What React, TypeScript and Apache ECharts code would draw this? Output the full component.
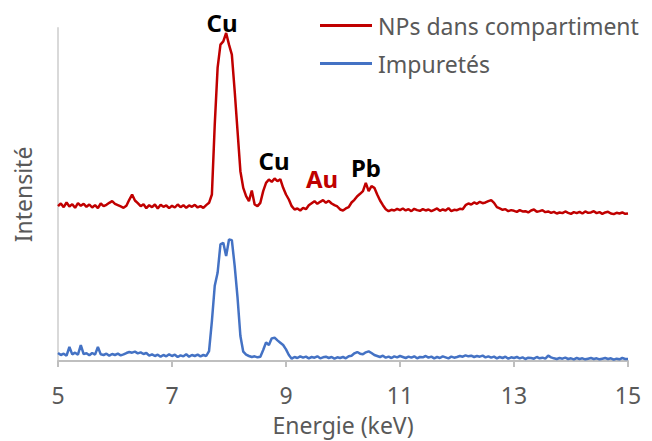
import React, { useEffect, useRef } from "react";
import * as echarts from "echarts";

// Energy sampling grid (keV), 5.00 to 15.00 every 0.05
const energyStart = 5;
const energyStep = 0.05;

const npsValues: number[] = [
  46.5, 47.3, 46.2, 47.6, 46.4, 47.1, 46.0, 47.4, 46.6, 47.2,
  46.3, 47.0, 46.1, 46.8, 45.9, 47.3, 46.5, 46.9, 47.5, 48.0,
  47.2, 46.8, 46.4, 46.0, 46.6, 48.4, 50.0, 48.2, 47.4, 46.5,
  47.1, 45.9, 46.8, 46.2, 47.0, 45.8, 46.9, 46.3, 46.7, 45.9,
  46.6, 46.1, 47.0, 46.2, 46.8, 46.0, 46.7, 46.3, 46.9, 46.1,
  46.5, 46.0, 46.8, 47.5, 50.0, 71.0, 88.0, 95.0, 96.0, 98.5,
  95.0, 92.0, 81.0, 69.0, 57.0, 52.0, 49.5, 48.0, 51.2, 47.0,
  46.5, 47.5, 51.0, 53.5, 54.5, 53.8, 54.8, 54.0, 54.6, 52.0,
  50.0, 48.5, 46.5, 45.5, 45.8, 45.2, 46.0, 45.6, 46.8, 47.4,
  48.0, 47.2, 47.8, 48.3, 47.5, 48.1, 47.3, 46.8, 46.4, 45.5,
  45.2, 45.8, 46.2, 47.6, 48.4, 49.5, 50.2, 51.0, 53.5, 51.0,
  52.5, 52.0, 50.0, 48.2, 46.8, 45.6, 45.0, 45.4, 45.2, 45.7,
  45.3, 45.8, 45.2, 45.6, 45.0, 45.7, 45.3, 45.1, 45.6, 45.2,
  45.5, 45.0, 45.4, 45.8, 45.1, 45.5, 45.2, 45.9, 45.0, 45.4,
  45.3, 45.7, 45.6, 46.8, 47.3, 47.0, 47.6, 47.2, 47.8, 47.4,
  47.6, 48.0, 48.3, 47.5, 46.2, 45.8, 45.4, 45.6, 45.0, 45.3,
  45.1, 44.8, 45.3, 44.9, 45.0, 44.6, 45.2, 45.5, 44.8, 45.0,
  45.3, 44.7, 44.9, 44.5, 44.8, 44.3, 44.6, 44.4, 44.9, 44.5,
  44.2, 44.7, 44.4, 44.8, 44.3, 44.9, 44.5, 44.6, 45.0, 44.4,
  44.7, 44.2, 44.6, 44.8, 44.3, 44.1, 44.5, 44.3, 44.6, 44.2,
  44.3,
];

const impuretesValues: number[] = [
  2.4, 1.8, 2.2, 1.6, 4.2, 2.0, 2.5, 1.9, 4.8, 2.1,
  2.3, 1.7, 2.4, 1.9, 4.2, 2.0, 1.8, 2.2, 1.6, 2.1,
  1.8, 2.2, 1.7, 2.0, 2.4, 2.7, 2.5, 2.8, 2.3, 2.6,
  2.1, 2.4, 1.6, 2.0, 1.5, 1.9, 1.3, 1.8, 1.4, 2.0,
  1.5, 1.9, 1.2, 1.7, 1.4, 2.0, 1.3, 1.8, 1.5, 1.9,
  1.4, 1.8, 1.5, 3.0, 12.0, 22.6, 26.5, 35.0, 35.5, 31.5,
  36.5, 36.3, 28.5, 19.0, 7.5, 2.8, 1.9, 1.5, 1.2, 1.4,
  1.1, 1.3, 3.3, 5.6, 4.8, 6.8, 7.0, 6.2, 5.5, 4.8,
  3.5, 1.8, 0.7, 1.2, 0.9, 1.4, 1.0, 1.3, 0.8, 1.2,
  1.0, 1.4, 0.8, 1.1, 1.3, 0.9, 1.2, 0.7, 1.1, 0.9,
  1.2, 0.8, 1.4, 1.6, 2.3, 2.7, 2.2, 2.0, 2.6, 2.9,
  2.4, 1.8, 1.5, 1.2, 1.6, 1.0, 1.3, 0.9, 1.4, 1.1,
  1.5, 1.2, 0.9, 1.3, 1.0, 1.4, 0.8, 1.2, 1.1, 1.5,
  1.0, 1.3, 0.8, 1.2, 0.9, 1.4, 1.1, 0.8, 1.3, 1.0,
  1.2, 1.5, 1.3, 1.7, 1.4, 1.6, 1.2, 1.5, 1.3, 1.6,
  1.1, 1.4, 1.0, 1.3, 0.8, 1.2, 0.9, 1.3, 0.7, 1.1,
  0.9, 1.2, 0.8, 1.1, 0.6, 1.0, 0.9, 0.7, 1.2, 0.8,
  1.0, 0.7, 1.6, 1.1, 0.8, 0.6, 0.9, 0.7, 1.0, 0.6,
  0.8, 0.5, 0.9, 0.6, 0.8, 0.5, 0.7, 0.9, 0.6, 0.8,
  0.5, 0.7, 0.9, 0.6, 0.8, 0.4, 0.7, 0.5, 0.9, 0.6,
  0.6,
];

const seriesNames = ["NPs dans compartiment", "Impuretés"];
const xTicks = { min: 5, max: 15, interval: 2 };
const peakLabels = ["Cu", "Cu", "Au", "Pb"];

const FONT = "'Noto Sans', sans-serif";
const GREY = "#595959";

function toPairs(values: number[]): [number, number][] {
  return values.map((v, i) => [+(energyStart + i * energyStep).toFixed(2), v]);
}

export default function App() {
  const ref = useRef<HTMLDivElement>(null);

  useEffect(() => {
    if (!ref.current) return;
    const chart = echarts.init(ref.current, null, { renderer: "svg" });
    chart.setOption({
      animation: false,
      backgroundColor: "#ffffff",
      textStyle: { fontFamily: FONT },
      grid: { left: 58, right: 24, top: 28, bottom: 77, containLabel: false },
      legend: {
        orient: "vertical",
        left: 320,
        top: 14,
        padding: 0,
        itemWidth: 52,
        itemHeight: 3,
        itemGap: 15,
        icon: "rect",
        textStyle: { color: GREY, fontSize: 23, fontFamily: FONT, padding: [0, 0, 0, 1] },
        data: seriesNames,
      },
      xAxis: {
        type: "value",
        min: xTicks.min,
        max: xTicks.max,
        interval: xTicks.interval,
        name: "Energie (keV)",
        nameLocation: "middle",
        nameGap: 52,
        nameTextStyle: { color: GREY, fontSize: 23, fontFamily: FONT },
        axisLine: { show: true, lineStyle: { color: "#bfbfbf", width: 2 } },
        axisTick: { show: true, length: 6, lineStyle: { color: "#bfbfbf", width: 2 } },
        axisLabel: { color: GREY, fontSize: 23, fontFamily: FONT, margin: 22 },
        splitLine: { show: false },
      },
      yAxis: {
        type: "value",
        min: 0,
        max: 100,
        name: "Intensité",
        nameLocation: "middle",
        nameGap: 24,
        nameTextStyle: { color: GREY, fontSize: 23, fontFamily: FONT },
        axisLine: { show: true, lineStyle: { color: "#d9d9d9", width: 2 } },
        axisTick: { show: false },
        axisLabel: { show: false },
        splitLine: { show: false },
      },
      series: [
        {
          name: seriesNames[0],
          type: "line",
          data: toPairs(npsValues),
          showSymbol: false,
          symbol: "none",
          lineStyle: { color: "#c00000", width: 2.5 },
          itemStyle: { color: "#c00000" },
        },
        {
          name: seriesNames[1],
          type: "line",
          data: toPairs(impuretesValues),
          showSymbol: false,
          symbol: "none",
          lineStyle: { color: "#4472c4", width: 2.5 },
          itemStyle: { color: "#4472c4" },
        },
      ],
      graphic: [
        { type: "text", x: 222, y: 22, style: { text: peakLabels[0], fill: "#000", font: `bold 24px ${FONT}`, align: "center", verticalAlign: "middle" } },
        { type: "text", x: 274, y: 160, style: { text: peakLabels[1], fill: "#000", font: `bold 24px ${FONT}`, align: "center", verticalAlign: "middle" } },
        { type: "text", x: 322, y: 178, style: { text: peakLabels[2], fill: "#c00000", font: `bold 24px ${FONT}`, align: "center", verticalAlign: "middle" } },
        { type: "text", x: 366, y: 167, style: { text: peakLabels[3], fill: "#000", font: `bold 24px ${FONT}`, align: "center", verticalAlign: "middle" } },
      ],
    });
    return () => chart.dispose();
  }, []);

  return <div ref={ref} style={{ width: 652, height: 441, position: "absolute", left: 0, top: 0 }} />;
}
